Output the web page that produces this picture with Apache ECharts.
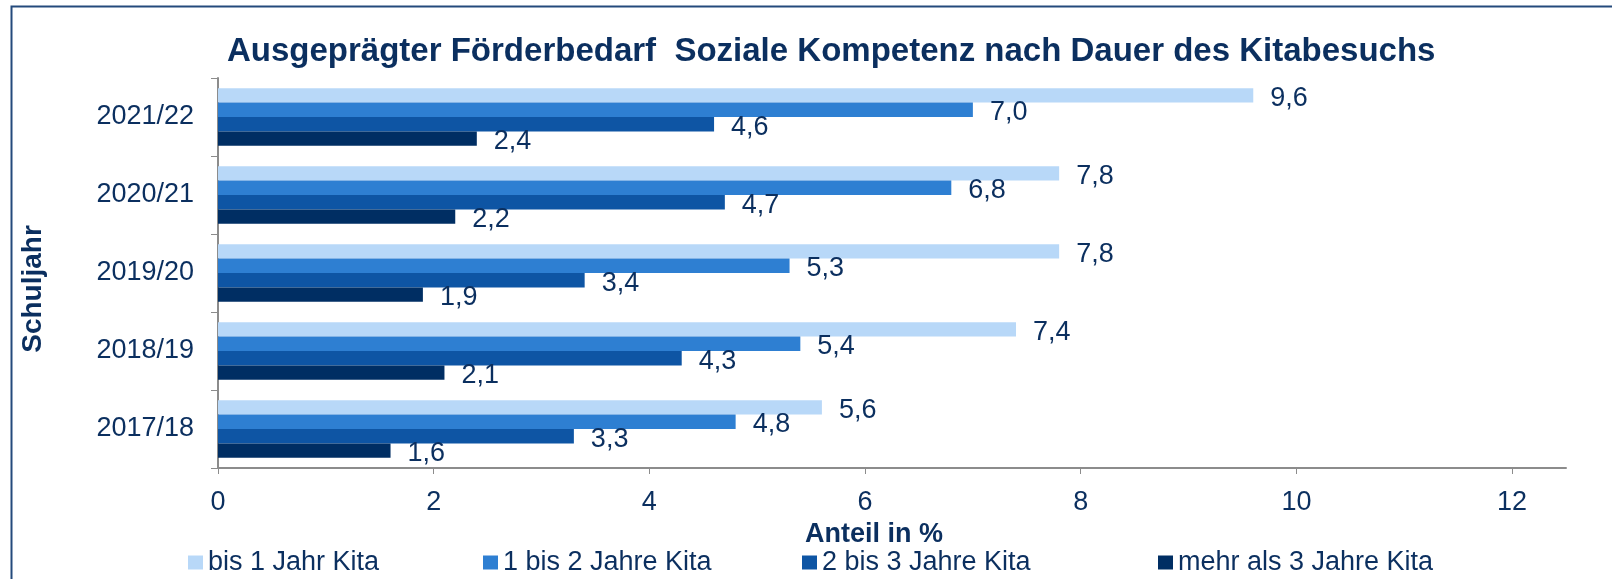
<!DOCTYPE html>
<html lang="de">
<head>
    <meta charset="UTF-8">
    <title>Förderbedarf Soziale Kompetenz</title>
    <script src="https://cdn.jsdelivr.net/npm/echarts@6/dist/echarts.min.js"></script>
    <style>
        html, body { margin: 0; padding: 0; background: #fff; }
    </style>
</head>
<body>
<div id="chart" style="width:1612px;height:579px;"></div>

<script type="text/javascript">
    // Schuljahre von unten nach oben
    var years = ['2017/18', '2018/19', '2019/20', '2020/21', '2021/22'];
    var bis1 = [5.6, 7.4, 7.8, 7.8, 9.6];
    var bis2 = [4.8, 5.4, 5.3, 6.8, 7.0];
    var bis3 = [3.3, 4.3, 3.4, 4.7, 4.6];
    var mehr3 = [1.6, 2.1, 1.9, 2.2, 2.4];
    var xTicks = [0, 2, 4, 6, 8, 10, 12];

    var names = ['bis 1 Jahr Kita', '1 bis 2 Jahre Kita', '2 bis 3 Jahre Kita', 'mehr als 3 Jahre Kita'];
    var colors = ['#B8D8F8', '#2E7FD2', '#0E55A4', '#002E63'];
    var navy = '#0B2F5F';
    var font = 'Liberation Sans, Arial, sans-serif';

    var myChart = echarts.init(document.getElementById('chart'));

    function barSeries(name, data, color) {
        return {
            name: name,
            type: 'bar',
            data: data,
            barGap: '0%',
            barCategoryGap: '26%',
            itemStyle: {color: color},
            label: {
                show: true,
                position: 'right',
                distance: 17,
                offset: [0, 3],
                color: navy,
                fontSize: 27,
                fontFamily: font,
                formatter: function (p) {
                    return p.value.toFixed(1).replace('.', ',');
                }
            }
        };
    }

    // legend items sit at fixed spots like in the original
    var legendLeft = [188, 483, 802, 1158];
    var legends = [];
    for (var i = 0; i < names.length; i++) {
        legends.push({
            data: [names[i]],
            left: legendLeft[i],
            top: 549,
            padding: 0,
            itemWidth: 15,
            itemHeight: 14,
            icon: 'rect',
            textStyle: {color: navy, fontSize: 27, fontFamily: font}
        });
    }

    var option = {
        animation: false,
        color: colors,
        title: {
            text: 'Ausgeprägter Förderbedarf  Soziale Kompetenz nach Dauer des Kitabesuchs',
            left: 222,
            top: 30,
            textStyle: {color: navy, fontSize: 33, fontWeight: 'bold', fontFamily: font}
        },
        legend: legends,
        graphic: [{
            type: 'rect',
            left: 9,
            top: 4,
            shape: {width: 1700, height: 700},
            style: {fill: 'none', stroke: '#244A7C', lineWidth: 2}
        }],
        grid: {left: 218, top: 78, right: 46, bottom: 111},
        xAxis: {
            type: 'value',
            min: 0,
            max: 12.5,
            interval: 2,
            name: 'Anteil in %',
            nameLocation: 'middle',
            nameGap: 51,
            nameTextStyle: {color: navy, fontSize: 27, fontWeight: 'bold', fontFamily: font, padding: [0, 36, 0, 0]},
            axisLine: {show: true, lineStyle: {color: '#8C8C8C', width: 2}},
            axisTick: {show: true, length: 6, customValues: xTicks, lineStyle: {color: '#8C8C8C'}},
            axisLabel: {color: navy, fontSize: 27, fontFamily: font, margin: 21, customValues: xTicks},
            splitLine: {show: false}
        },
        yAxis: {
            type: 'category',
            data: years,
            name: 'Schuljahr',
            nameLocation: 'middle',
            nameRotate: 90,
            nameGap: 171,
            nameTextStyle: {color: navy, fontSize: 28, fontWeight: 'bold', fontFamily: font, padding: [0, 32, 0, 0]},
            axisLine: {lineStyle: {color: '#8C8C8C', width: 2}},
            axisTick: {show: true, length: 7, lineStyle: {color: '#8C8C8C'}},
            axisLabel: {color: navy, fontSize: 27, fontFamily: font, margin: 24}
        },
        series: [
            barSeries(names[0], bis1, colors[0]),
            barSeries(names[1], bis2, colors[1]),
            barSeries(names[2], bis3, colors[2]),
            barSeries(names[3], mehr3, colors[3])
        ]
    };

    myChart.setOption(option);
</script>

</body>
</html>
